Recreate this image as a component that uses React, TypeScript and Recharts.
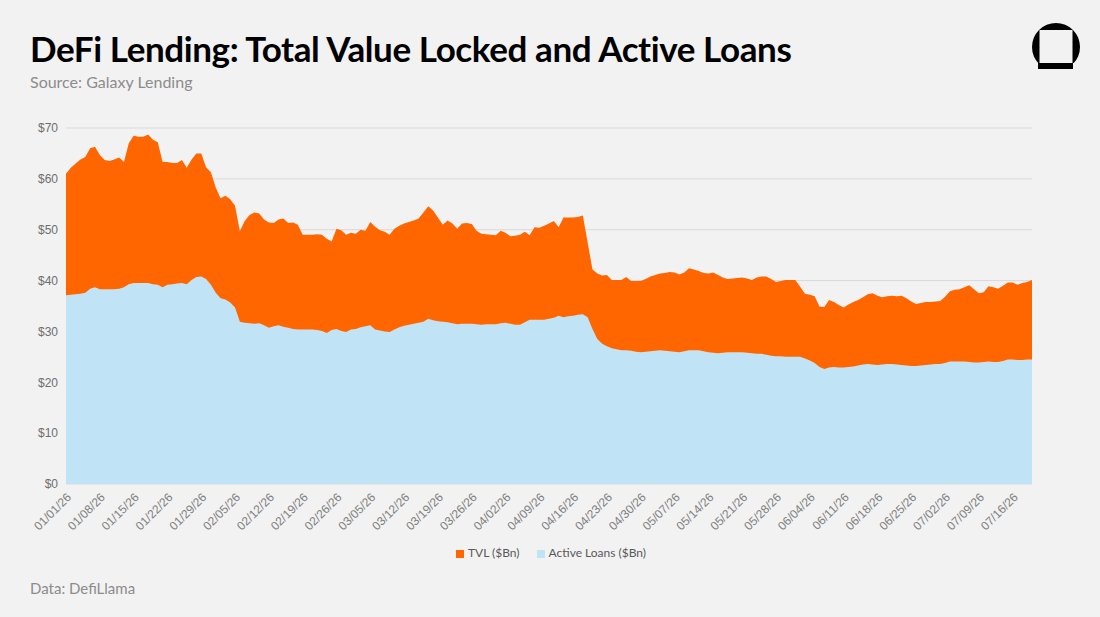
import React from 'react';
import { AreaChart, Area, XAxis, YAxis, CartesianGrid, Legend } from 'recharts';

const monthLengths = [31, 28, 31, 30, 31, 30, 20];
const pad = (n: number) => String(n).padStart(2, '0');
const dates: string[] = monthLengths.flatMap((len, m) =>
  Array.from({ length: len }, (_, d) => `${pad(m + 1)}/${pad(d + 1)}/26`)
);

const tickDates = [
  '01/01/26', '01/08/26', '01/15/26', '01/22/26', '01/29/26', '02/05/26', '02/12/26',
  '02/19/26', '02/26/26', '03/05/26', '03/12/26', '03/19/26', '03/26/26', '04/02/26',
  '04/09/26', '04/16/26', '04/23/26', '04/30/26', '05/07/26', '05/14/26', '05/21/26',
  '05/28/26', '06/04/26', '06/11/26', '06/18/26', '06/25/26', '07/02/26', '07/09/26',
  '07/16/26'
];

const yTicks = [0, 10, 20, 30, 40, 50, 60, 70];

// TVL, $Bn, daily
const tvl = [
  61.0, 62.2, 63.0, 63.8, 64.3, 66.0, 66.3, 64.7, 63.7, 63.5,
  63.8, 64.2, 63.3, 67.0, 68.5, 68.3, 68.3, 68.7, 67.7, 67.2,
  63.3, 63.3, 63.1, 63.1, 63.7, 62.2, 63.8, 65.0, 65.0, 62.3,
  61.3, 58.3, 56.2, 56.7, 56.0, 54.7, 49.7, 51.7, 52.9, 53.4,
  53.2, 52.0, 51.4, 51.3, 52.0, 52.2, 51.3, 51.4, 51.0, 49.0,
  49.0, 49.0, 49.1, 49.0, 48.2, 47.7, 50.2, 49.9, 49.0, 49.4,
  49.2, 50.0, 49.8, 51.5, 50.6, 49.9, 49.6, 49.0, 50.2, 50.8,
  51.2, 51.5, 51.8, 52.2, 53.4, 54.6, 53.8, 52.4, 51.0, 51.8,
  51.2, 50.2, 51.2, 51.3, 51.1, 49.8, 49.2, 49.1, 49.0, 48.9,
  49.8, 49.4, 48.7, 48.8, 49.0, 49.6, 48.9, 50.5, 50.4, 50.8,
  51.2, 51.7, 50.5, 52.4, 52.4, 52.4, 52.5, 52.8, 47.5, 42.2,
  41.4, 41.0, 41.1, 40.1, 40.1, 40.1, 40.7, 39.9, 39.9, 39.9,
  40.3, 40.8, 41.1, 41.4, 41.5, 41.7, 41.6, 41.2, 41.6, 42.4,
  42.2, 41.9, 41.5, 41.4, 41.6, 41.1, 40.6, 40.3, 40.4, 40.5,
  40.6, 40.4, 40.1, 40.6, 40.8, 40.8, 40.3, 39.7, 39.9, 40.1,
  40.1, 40.1, 38.8, 37.4, 37.2, 36.9, 34.9, 34.8, 36.2, 35.8,
  35.2, 34.7, 35.3, 35.8, 36.2, 36.7, 37.3, 37.5, 37.0, 36.7,
  36.9, 37.0, 36.9, 37.0, 36.5, 35.9, 35.4, 35.6, 35.8, 35.8,
  35.9, 36.0, 36.8, 37.9, 38.2, 38.3, 38.7, 39.1, 38.3, 37.5,
  37.7, 38.9, 38.7, 38.4, 39.0, 39.6, 39.6, 39.2, 39.5, 39.7,
  40.1
];

// Active loans, $Bn, daily
const loans = [
  37.1, 37.2, 37.3, 37.4, 37.6, 38.4, 38.7, 38.3, 38.3, 38.3,
  38.3, 38.4, 38.7, 39.3, 39.5, 39.5, 39.5, 39.5, 39.3, 39.2,
  38.7, 39.2, 39.3, 39.4, 39.5, 39.3, 40.1, 40.7, 40.8, 40.3,
  39.2, 37.6, 36.5, 36.3, 35.7, 34.7, 31.9, 31.7, 31.6, 31.5,
  31.6, 31.2, 30.7, 31.0, 31.2, 30.9, 30.7, 30.5, 30.4, 30.4,
  30.4, 30.4, 30.3, 30.1, 29.7, 30.3, 30.5, 30.1, 29.9, 30.4,
  30.5, 30.8, 31.0, 31.2, 30.4, 30.2, 30.0, 29.9, 30.4, 30.8,
  31.1, 31.3, 31.5, 31.7, 31.9, 32.5, 32.2, 32.0, 31.9, 31.8,
  31.6, 31.4, 31.5, 31.5, 31.5, 31.4, 31.3, 31.4, 31.4, 31.4,
  31.6, 31.7, 31.5, 31.3, 31.3, 31.8, 32.3, 32.3, 32.3, 32.3,
  32.5, 32.7, 33.1, 32.8, 33.0, 33.1, 33.3, 33.4, 32.8, 30.5,
  28.5, 27.6, 27.1, 26.7, 26.5, 26.3, 26.3, 26.2, 26.0, 25.9,
  26.0, 26.1, 26.2, 26.3, 26.2, 26.1, 26.0, 25.9, 26.1, 26.3,
  26.3, 26.3, 26.1, 25.9, 25.8, 25.7, 25.8, 25.9, 25.9, 25.9,
  25.9, 25.8, 25.7, 25.6, 25.6, 25.4, 25.2, 25.1, 25.1, 25.0,
  25.0, 25.0, 25.0, 24.7, 24.3, 23.8, 23.0, 22.6, 22.9, 23.0,
  22.9, 22.9, 23.0, 23.1, 23.3, 23.5, 23.6, 23.5, 23.4, 23.5,
  23.6, 23.6, 23.5, 23.4, 23.3, 23.2, 23.2, 23.3, 23.4, 23.5,
  23.6, 23.6, 23.8, 24.1, 24.1, 24.1, 24.1, 24.0, 23.9, 23.9,
  24.0, 24.1, 24.0, 24.0, 24.2, 24.5, 24.5, 24.4, 24.4, 24.5,
  24.5
];

const data = dates.map((date, i) => ({ date, tvl: tvl[i], loans: loans[i] }));

const ORANGE = '#FF6600';
const BLUE = '#C0E4F5';
const BG = '#F2F2F2';

// legend keeps series order: TVL first
const legendOrder = ['TVL ($Bn)', 'Active Loans ($Bn)'];

function Logo() {
  return (
    <svg width={60} height={60} style={{ position: 'absolute', left: 1026, top: 18 }}>
      <circle cx={30} cy={29} r={24} fill="#000" />
      <rect x={0} y={45} width={60} height={15} fill={BG} />
      <rect x={12} y={45} width={35} height={6} fill="#000" />
      <rect x={13.5} y={12} width={33} height={33} fill={BG} />
    </svg>
  );
}

export default function App() {
  return (
    <div
      style={{
        position: 'relative',
        width: 1100,
        height: 617,
        background: BG,
        overflow: 'hidden',
        fontFamily: 'Lato, sans-serif'
      }}
    >
      <style>{'body { margin: 0; }'}</style>
      <div
        style={{
          position: 'absolute',
          left: 30,
          top: 27,
          fontSize: 35,
          fontWeight: 700,
          color: '#000',
          letterSpacing: -0.4,
          whiteSpace: 'nowrap'
        }}
      >
        DeFi Lending: Total Value Locked and Active Loans
      </div>
      <div style={{ position: 'absolute', left: 30, top: 72, fontSize: 16, color: '#8C8C8C' }}>
        Source: Galaxy Lending
      </div>
      <Logo />

      <div style={{ position: 'absolute', left: 0, top: 0 }}>
        <AreaChart
          width={1100}
          height={570}
          data={data}
          margin={{ top: 128, right: 68, left: 16, bottom: 10 }}
        >
          <CartesianGrid vertical={false} stroke="#D9D9D9" />
          <XAxis
            dataKey="date"
            ticks={tickDates}
            interval={0}
            axisLine={false}
            tickLine={false}
            angle={-45}
            textAnchor="end"
            height={61}
            tick={{ fontSize: 12, fill: '#808080', fontFamily: 'Liberation Sans, sans-serif' }}
          />
          <YAxis
            domain={[0, 70]}
            ticks={yTicks}
            width={50}
            axisLine={false}
            tickLine={false}
            tickFormatter={(v) => `$${v}`}
            tick={{ fontSize: 12, fill: '#6E6E6E', fontFamily: 'Liberation Sans, sans-serif' }}
          />
          <Legend
            verticalAlign="bottom"
            iconType="square"
            iconSize={8}
            itemSorter={(item) => legendOrder.indexOf(String(item.value))}
            wrapperStyle={{ fontSize: 12, fontFamily: 'Lato, sans-serif', left: 456, width: 'auto' }}
            formatter={(value) => (
              <span style={{ color: '#595959', paddingRight: 7 }}>{value}</span>
            )}
          />
          <Area
            type="linear"
            dataKey="tvl"
            name="TVL ($Bn)"
            stroke="none"
            fill={ORANGE}
            fillOpacity={1}
            dot={false}
            activeDot={false}
            isAnimationActive={false}
          />
          <Area
            type="linear"
            dataKey="loans"
            name="Active Loans ($Bn)"
            stroke="none"
            fill={BLUE}
            fillOpacity={1}
            dot={false}
            activeDot={false}
            isAnimationActive={false}
          />
        </AreaChart>
      </div>

      <div style={{ position: 'absolute', left: 30, top: 579, fontSize: 15, color: '#8C8C8C' }}>
        Data: DefiLlama
      </div>
    </div>
  );
}
